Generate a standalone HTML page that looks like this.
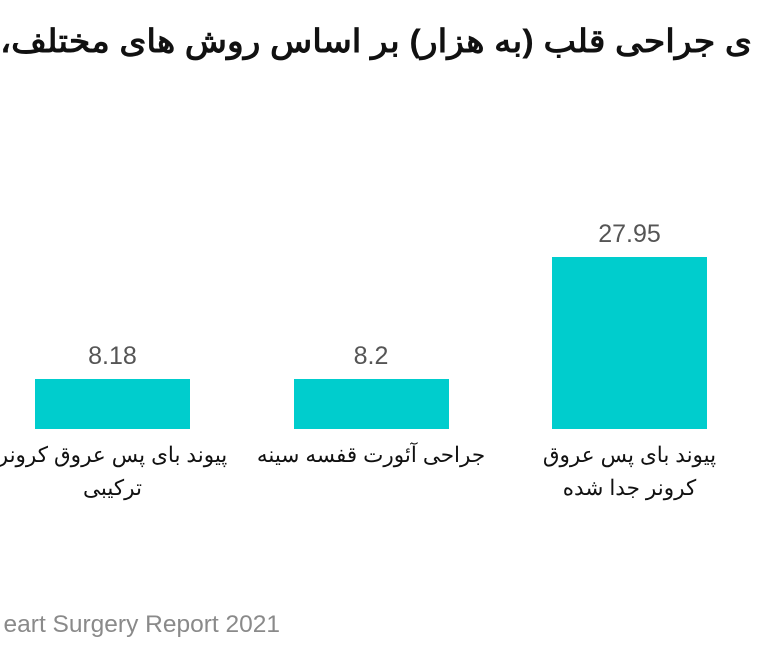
<!DOCTYPE html>
<html><head><meta charset="utf-8"><style>
body{margin:0;width:768px;height:665px;overflow:hidden;background:#fff;position:relative;font-family:"Liberation Sans","Noto Sans CJK SC",sans-serif}
#title{position:absolute;top:0;left:0}
#footer{position:absolute;top:611px;right:488px;white-space:nowrap;font-size:24.5px;color:#8a8a8a}
.val{position:absolute;font-size:25px;color:#555;text-align:center;width:200px;margin-left:-100px;white-space:nowrap}
.cat{position:absolute;font-size:21.5px;color:#111;text-align:center;width:300px;margin-left:-150px;white-space:nowrap;direction:rtl;line-height:33px}
.bar{position:absolute;background:#00cdcd}
</style></head><body>
<svg id="title" width="768" height="70"><text x="752" y="52" direction="rtl" text-anchor="start" textLength="752" lengthAdjust="spacingAndGlyphs" font-size="32" font-weight="bold" fill="#111" font-family="Liberation Sans, Noto Sans CJK SC, sans-serif">ی جراحی قلب (به هزار) بر اساس روش های مختلف،</text></svg>
<div id="chart"></div>
<div id="footer">eart Surgery Report 2021</div>
<script>
const categories=["پیوند بای پس عروق کرونر<br>ترکیبی","جراحی آئورت قفسه سینه","پیوند بای پس عروق<br>کرونر جدا شده"];
const values=[8.18,8.2,27.95];
const labels=["8.18","8.2","27.95"];
const baseY=429, scale=6.15, x0=35, step=258.5, bw=155;
const yPos=v=>baseY-v*scale;
const c=document.getElementById('chart');
values.forEach((v,i)=>{
  const x=x0+i*step, cx=x+bw/2;
  const b=document.createElement('div');
  b.className='bar';
  
  
  b.style.left=x+'px';b.style.width=bw+'px';b.style.top=yPos(v)+'px';b.style.height=(baseY-yPos(v))+'px';
  c.appendChild(b);
  const l=document.createElement('div');
  l.className='val';
  
  
  l.textContent=labels[i];
  l.style.left=cx+'px';l.style.top=(yPos(v)-37)+'px';
  c.appendChild(l);
  const t=document.createElement('div');
  t.className='cat';
  
  
  t.innerHTML=categories[i];
  t.style.left=cx+'px';t.style.top='439px';
  c.appendChild(t);
});
</script>
</body></html>
